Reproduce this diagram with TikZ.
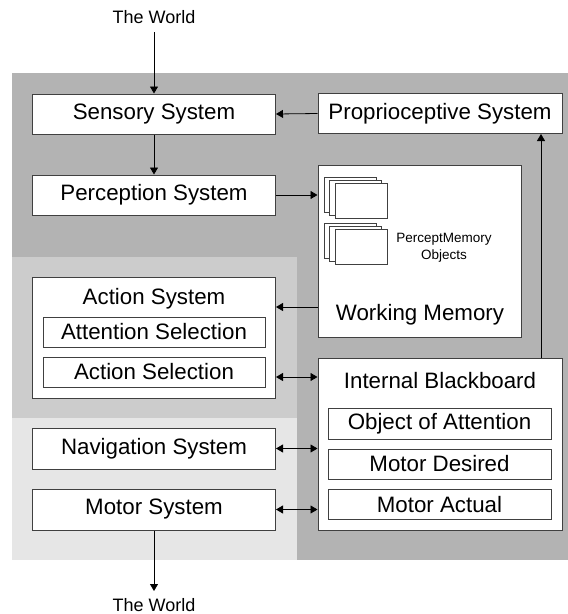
\documentclass[tikz,border=0pt]{standalone}
\usepackage{fontspec}
\setmainfont{Liberation Sans}
\usetikzlibrary{arrows.meta}
\definecolor{bgdark}{HTML}{B3B3B3}
\definecolor{bgmid}{HTML}{CCCCCC}
\definecolor{bglight}{HTML}{E6E6E6}
\definecolor{edge}{HTML}{404040}
\tikzset{
  box/.style={draw=edge, line width=1pt, fill=white, inner sep=0pt, font=\fontsize{22.3}{25}\selectfont},
  sub/.style={box, minimum width=222pt, minimum height=30pt},
  big/.style={box, minimum width=243pt, minimum height=40pt},
  card/.style={draw=edge, line width=0.8pt, fill=white},
  lbl/.style={inner sep=0pt, font=\fontsize{22.3}{25}\selectfont},
  arr/.style={line width=0.8pt, -{Triangle[length=7pt,width=8pt]}},
  darr/.style={line width=0.8pt, {Triangle[length=7pt,width=8pt]}-{Triangle[length=7pt,width=8pt]}}
}
\begin{document}
\begin{tikzpicture}[x=1pt,y=-1pt]
\useasboundingbox (0,0) rectangle (568,614);
% backgrounds
\fill[bgdark] (12,73) rectangle (568,560);
\fill[bgmid] (12,257) rectangle (297,418);
\fill[bglight] (12,418) rectangle (297,560);

% top world
\node[inner sep=0pt, font=\fontsize{18}{21}\selectfont] (world1) at (154,17) {The World};
\node[inner sep=0pt, font=\fontsize{18}{21}\selectfont] (world2) at (154,605) {The World};
\coordinate (w1) at (154,32);
\coordinate (w2) at (154,591);

% left column
\node[big] (sens) at (154,114) {Sensory System};
\node[big] (perc) at (154,195) {Perception System};
\node[box, minimum width=243pt, minimum height=121pt] (act) at (154,337.5) {};
\node[lbl] (actlbl) at (154,298.5) {Action System};
\node[sub] (attsel) at (154,332) {Attention Selection};
\node[sub] (actsel) at (154,372) {Action Selection};
\node[big, minimum height=41pt] (nav) at (154,448.5) {Navigation System};
\node[big, minimum height=41pt] (mot) at (154,509.5) {Motor System};

% right column
\node[box, minimum width=244pt, minimum height=40pt] (prop) at (440,113.5) {Proprioceptive System};
\node[box, minimum width=203pt, minimum height=172pt] (wm) at (419.5,251) {};
\node[lbl] (wmlbl) at (420,315) {Working Memory};
\node[inner sep=0pt, align=center, font=\fontsize{13.5}{17}\selectfont] (pmo) at (444,248) {PerceptMemory\\Objects};
% stacks of cards
\node[card, minimum width=52pt, minimum height=35pt] (c1a) at (350,194.5) {};
\node[card, minimum width=52pt, minimum height=35pt] (c1b) at (355.5,198) {};
\node[card, minimum width=52pt, minimum height=35pt] (c1c) at (361,201) {};
\node[card, minimum width=52pt, minimum height=35pt] (c2a) at (350,240.5) {};
\node[card, minimum width=52pt, minimum height=35pt] (c2b) at (355.5,243.5) {};
\node[card, minimum width=52pt, minimum height=35pt] (c2c) at (361,246.5) {};

\node[box, minimum width=244pt, minimum height=172pt] (ib) at (440,444) {};
\node[lbl] (iblbl) at (440,380.5) {Internal Blackboard};
\node[sub, minimum width=223pt, minimum height=31pt] (ooa) at (439.5,423.5) {Object of Attention};
\node[sub, minimum width=223pt, minimum height=30pt] (md) at (439.5,464) {Motor Desired};
\node[sub, minimum width=223pt, minimum height=30pt] (ma) at (439.5,504.5) {Motor Actual};

% connectors
\draw[arr] (w1) -- (sens.north);
\draw[arr] (sens.south) -- (perc.north);
\draw[arr] (prop.west) -- (sens.east);
\draw[arr] (perc.east) -- (wm.west |- perc.east);
\draw[arr] (wm.west |- 0,307) -- (act.east |- 0,307);
\draw[darr] (act.east |- 0,377) -- (ib.west |- 0,377);
\draw[darr] (nav.east) -- (ib.west |- nav.east);
\draw[darr] (mot.east) -- (ib.west |- mot.east);
\draw[arr] (mot.south) -- (w2);
\draw[arr] (ib.north -| 541,0) -- (prop.south -| 541,0);
\end{tikzpicture}
\end{document}
